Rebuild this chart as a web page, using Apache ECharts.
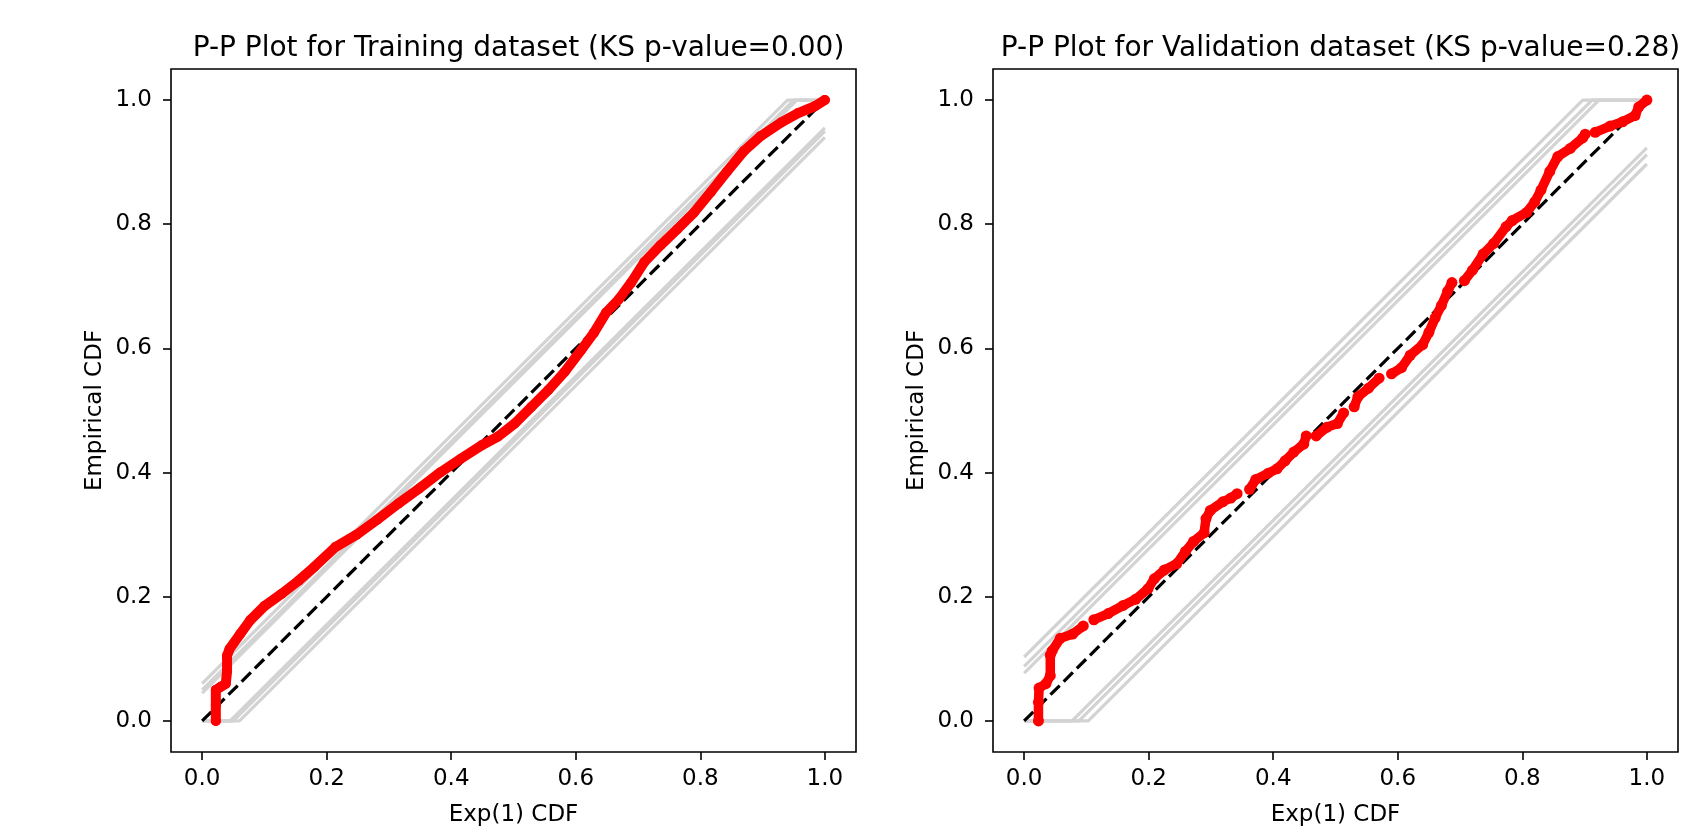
<!DOCTYPE html>
<html>
<head>
<meta charset="utf-8">
<title>P-P Plots</title>
<script src="https://cdn.jsdelivr.net/npm/echarts@6.0.0/dist/echarts.min.js"></script>
<style>
  html, body { margin: 0; padding: 0; background: #fff; }
  #chart { width: 1697px; height: 832px; }
</style>
</head>
<body>
<div id="chart"></div>
<script>
// panel titles and axis names
const titles = [
  'P-P Plot for Training dataset (KS p-value=0.00)',
  'P-P Plot for Validation dataset (KS p-value=0.28)'
]
const xName = 'Exp(1) CDF'
const yName = 'Empirical CDF'
const tickValues = [0, 0.2, 0.4, 0.6, 0.8, 1.0]

// training ECDF vs Exp(1) CDF
const trainX = [0.022, 0.022, 0.022, 0.030, 0.038, 0.040, 0.040, 0.044, 0.061, 0.077, 0.100, 0.128, 0.155,
  0.180, 0.214, 0.248, 0.281, 0.315, 0.348, 0.382, 0.415, 0.449, 0.475, 0.502, 0.529, 0.556, 0.582,
  0.609, 0.629, 0.649, 0.669, 0.689, 0.710, 0.736, 0.763, 0.790, 0.817, 0.843, 0.870, 0.897, 0.930,
  0.957, 0.984, 1.000]
const trainY = [0.000, 0.025, 0.050, 0.055, 0.060, 0.080, 0.105, 0.116, 0.140, 0.162, 0.185, 0.205, 0.226,
  0.248, 0.280, 0.300, 0.324, 0.350, 0.374, 0.400, 0.422, 0.444, 0.458, 0.479, 0.506, 0.533, 0.562,
  0.598, 0.625, 0.658, 0.679, 0.706, 0.739, 0.766, 0.792, 0.819, 0.852, 0.885, 0.918, 0.942, 0.964,
  0.979, 0.990, 1.000]

// validation ECDF, null marks a visible gap between dots
const valX = [0.023, 0.023, 0.024, 0.035, 0.042, 0.042, 0.045, 0.058, 0.078, 0.095, null,
  0.112, 0.135, 0.159, 0.179, 0.199, 0.209, 0.225, 0.245, 0.259, 0.272, 0.289, 0.292, 0.299, 0.319, 0.332, 0.342, null,
  0.362, 0.372, 0.392, 0.406, 0.419, 0.433, 0.449, 0.453, null,
  0.469, 0.486, 0.503, 0.513, null,
  0.530, 0.536, 0.553, 0.570, null,
  0.590, 0.606, 0.620, 0.640, 0.650, 0.660, 0.670, 0.680, 0.687, null,
  0.707, 0.720, 0.737, 0.754, 0.774, 0.784, 0.807, 0.820, 0.830, 0.844, 0.857, 0.877, 0.897, 0.901, null,
  0.917, 0.941, 0.961, 0.981, 0.987, 1.000]
const valY = [0.000, 0.030, 0.053, 0.060, 0.073, 0.106, 0.113, 0.133, 0.140, 0.153, null,
  0.163, 0.173, 0.186, 0.196, 0.213, 0.229, 0.243, 0.253, 0.273, 0.289, 0.303, 0.326, 0.339, 0.353, 0.359, 0.366, null,
  0.373, 0.389, 0.399, 0.406, 0.419, 0.433, 0.446, 0.459, null,
  0.459, 0.473, 0.479, 0.496, null,
  0.506, 0.522, 0.536, 0.552, null,
  0.559, 0.569, 0.589, 0.606, 0.626, 0.649, 0.669, 0.692, 0.706, null,
  0.709, 0.726, 0.752, 0.769, 0.796, 0.806, 0.819, 0.836, 0.855, 0.885, 0.909, 0.922, 0.939, 0.945, null,
  0.948, 0.958, 0.965, 0.975, 0.989, 1.000]

// half-widths of the grey confidence bands
const trainBands = [0.045, 0.050, 0.060]
const valBands = [0.077, 0.088, 0.103]

// reference diagonal
const diagX = [0, 1]
const diagY = [0, 1]

const font = 'DejaVu Sans'
const panels = [
  { left: 171, title: titles[0], xs: trainX, ys: trainY, bands: trainBands, lw: 10, sym: 10 },
  { left: 993, title: titles[1], xs: valX, ys: valY, bands: valBands, lw: 9.5, sym: 11 }
]
const plotW = 685
const plotTop = 69
const plotH = 687

const pairs = (xs, ys) => xs.map((x, i) => (x == null ? ['-', '-'] : [x, ys[i]]))

const bandLines = (d) => [
  [[0, d], [1 - d, 1], [1, 1]],
  [[0, 0], [d, 0], [1, 1 - d]]
]

const textStyle = { fontFamily: font, fontSize: 23, color: '#000' }

const makeAxis = (i, name, gap, margin) => ({
  type: 'value',
  gridIndex: i,
  min: -0.05,
  max: 1.05,
  name: name,
  nameLocation: 'middle',
  nameGap: gap,
  nameTextStyle: textStyle,
  axisLine: { show: false, onZero: false },
  axisTick: {
    show: true,
    length: 8,
    customValues: tickValues,
    lineStyle: { color: '#000', width: 1.6 }
  },
  axisLabel: {
    ...textStyle,
    customValues: tickValues,
    margin: margin,
    formatter: (v) => v.toFixed(1)
  },
  splitLine: { show: false }
})

const series = []
panels.forEach((p, i) => {
  p.bands.forEach((d) => {
    bandLines(d).forEach((pts) => {
      series.push({
        type: 'line',
        xAxisIndex: i,
        yAxisIndex: i,
        data: pts,
        showSymbol: false,
        silent: true,
        z: 2,
        lineStyle: { color: '#d3d3d3', width: 3.2 }
      })
    })
  })
  series.push({
    type: 'line',
    xAxisIndex: i,
    yAxisIndex: i,
    data: pairs(diagX, diagY),
    showSymbol: false,
    silent: true,
    z: 3,
    lineStyle: { color: '#000', width: 3.2, type: [13, 5.6] }
  })
  series.push({
    type: 'line',
    xAxisIndex: i,
    yAxisIndex: i,
    data: pairs(p.xs, p.ys),
    connectNulls: false,
    symbol: 'circle',
    symbolSize: p.sym,
    showSymbol: true,
    z: 4,
    itemStyle: { color: '#ff0000' },
    lineStyle: { color: '#ff0000', width: p.lw, cap: 'round', join: 'round' }
  })
})

const chart = echarts.init(document.getElementById('chart'), null, { renderer: 'canvas' })
chart.setOption({
  animation: false,
  backgroundColor: '#fff',
  title: panels.map((p) => ({
    text: p.title,
    left: p.left + plotW / 2,
    textAlign: 'center',
    top: 30,
    textStyle: { fontFamily: font, fontSize: 28, fontWeight: 'normal', color: '#000' }
  })),
  grid: panels.map((p) => ({
    left: p.left,
    top: plotTop,
    width: plotW,
    height: plotH,
    show: true,
    borderColor: '#000',
    borderWidth: 1.6,
    backgroundColor: 'transparent'
  })),
  xAxis: panels.map((p, i) => makeAxis(i, xName, 52, 16)),
  yAxis: panels.map((p, i) => makeAxis(i, yName, 64, 19)),
  series: series
})
</script>
</body>
</html>
